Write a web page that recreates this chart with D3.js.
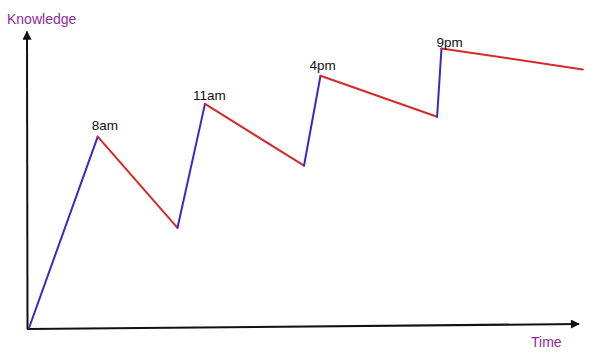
<!DOCTYPE html>
<html>
<head>
<meta charset="utf-8">
<script src="https://cdn.jsdelivr.net/npm/d3@7"></script>
<style>
  body { margin: 0; background: #fff; }
  text { font-family: "Liberation Sans", Arial, sans-serif; }
</style>
</head>
<body>
<div id="chart"></div>
<script>
const width = 600, height = 360;

// time (0-100) and knowledge (0-100) for each turning point
const times     = [0, 12.5, 27, 32, 50, 53, 74.2, 75, 100.7];
const knowledge = [0, 63.8, 33.4, 74.7, 54.1, 84.1, 70.4, 93.2, 86.2];
// labels at the peaks (index into the points)
const peakIdx    = [1, 3, 5, 7];
const peakLabels = ["8am", "11am", "4pm", "9pm"];

const rise = "#4125c8", fall = "#d42a2a", axisPurple = "#8e2a9a";
// label nudges relative to each peak
const labelNudge = [[-6, -7], [-12, -4], [-11, -5.5], [-5, -1.5]];

let svg = d3.select("#chart")
    .append("svg")
    .attr("width", width)
    .attr("height", height);

let x = d3.scaleLinear().domain([0, 100]).range([29, 579]);
let y = d3.scaleLinear().domain([0, 100]).range([328, 28]);

let defs = svg.append("defs");
defs.append("marker")
    .attr("id", "arrow")
    .attr("viewBox", "0 0 10 10")
    .attr("refX", 9).attr("refY", 5)
    .attr("markerWidth", 12).attr("markerHeight", 9)
    .attr("markerUnits", "userSpaceOnUse")
    .attr("orient", "auto")
    .append("path")
    .attr("d", "M0,0 L10,5 L0,10 z")
    .attr("fill", "#111");

// axes
svg.append("line")
    .attr("x1", x(0) - 1.5).attr("y1", y(0) + 1)
    .attr("x2", x(0) - 2).attr("y2", y(98.8))
    .attr("stroke", "#111").attr("stroke-width", 2)
    .attr("marker-end", "url(#arrow)");

svg.append("line")
    .attr("x1", x(0) - 2).attr("y1", y(0) + 1)
    .attr("x2", x(100)).attr("y2", y(0) - 4)
    .attr("stroke", "#111").attr("stroke-width", 2)
    .attr("marker-end", "url(#arrow)");

svg.append("text")
    .attr("x", 7).attr("y", 24)
    .attr("fill", axisPurple)
    .style("font-size", "14px")
    .text("Knowledge");

svg.append("text")
    .attr("x", 531).attr("y", 347)
    .attr("fill", axisPurple)
    .style("font-size", "14px")
    .text("Time");

// segments
let points = times.map((t, i) => ({t: t, k: knowledge[i]}));
let segs = d3.pairs(points);

svg.append("g").selectAll("line")
    .data(segs)
    .enter()
    .append("line")
    .attr("x1", d => x(d[0].t)).attr("y1", d => y(d[0].k))
    .attr("x2", d => x(d[1].t)).attr("y2", d => y(d[1].k))
    .attr("stroke", d => d[1].k > d[0].k ? rise : fall)
    .attr("stroke-width", 2)
    .attr("stroke-linecap", "round");

svg.append("g").selectAll("text")
    .data(peakIdx)
    .enter()
    .append("text")
    .attr("x", (d, i) => x(points[d].t) + labelNudge[i][0])
    .attr("y", (d, i) => y(points[d].k) + labelNudge[i][1])
    .attr("fill", "#111")
    .style("font-size", "13.5px")
    .text((d, i) => peakLabels[i]);
</script>
</body>
</html>
